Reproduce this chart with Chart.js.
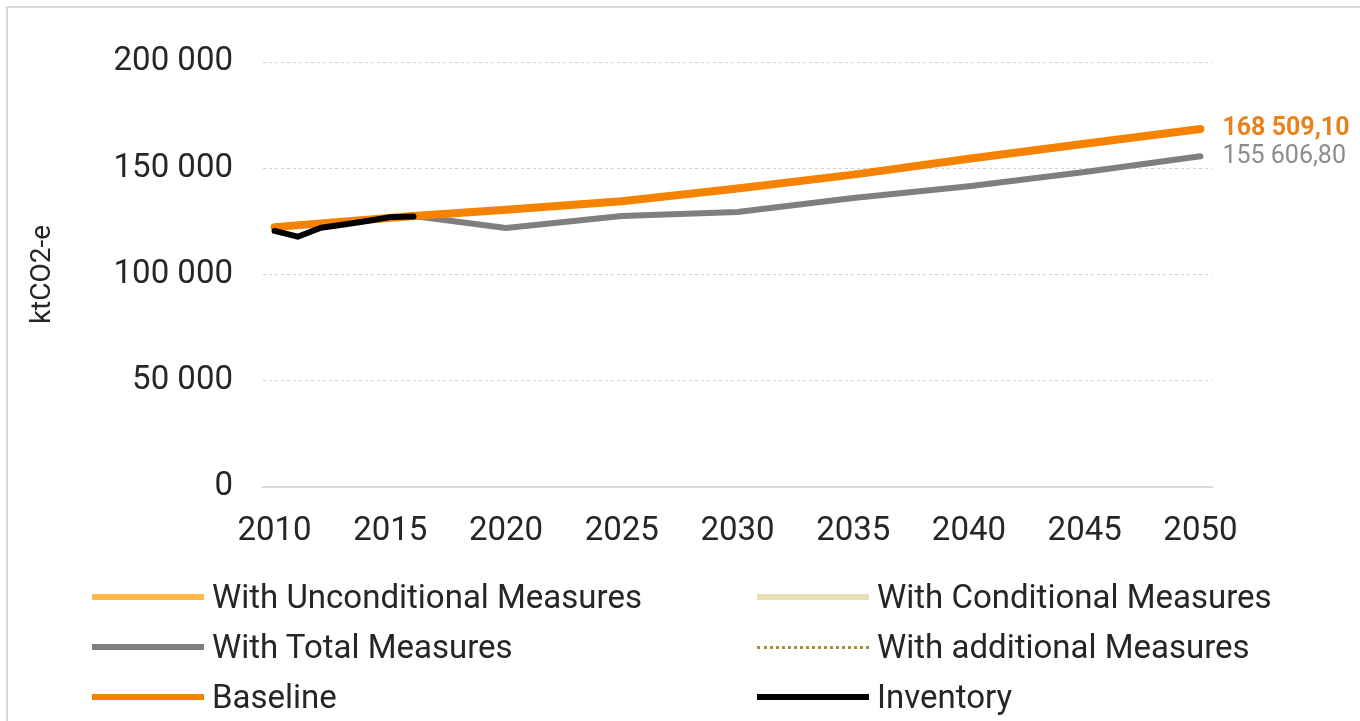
<!DOCTYPE html>
<html lang="en">

<head>
    <meta charset="UTF-8">
    <title>Emissions projections</title>
    <style>
        body {
            margin: 0;
            width: 1360px;
            height: 721px;
            overflow: hidden;
            background: #fff;
            font-family: Roboto, sans-serif;
            position: relative;
        }

        .frame {
            position: absolute;
            left: 6px;
            top: 6px;
            width: 1400px;
            height: 760px;
            border: 2px solid #d9d9d9;
        }

        .chart-container {
            position: absolute;
            left: 0;
            top: 0;
            width: 1360px;
            height: 721px;
        }

        .legend {
            position: absolute;
            left: 0;
            top: 0;
            font-size: 33px;
            color: #262626;
        }

        .legend .item {
            position: absolute;
            height: 40px;
            line-height: 40px;
            white-space: nowrap;
        }

        .legend .swatch {
            position: absolute;
            top: 17px;
            width: 110px;
            height: 0;
        }

        .legend .label {
            position: absolute;
            top: 0;
        }
    </style>
</head>

<body>
    <div class="frame"></div>
    <div class="chart-container">
        <canvas id="myChart"></canvas>
    </div>
    <div class="legend" id="legend"></div>

    <script src="https://cdn.jsdelivr.net/npm/chart.js"></script>
    <script>
        // years on the category axis
        const years = [];
        for (let y = 2010; y <= 2050; y++) years.push(y);

        const yTicks = [0, 50000, 100000, 150000, 200000];

        // values in ktCO2-e (null = no point)
        const baselineYears = [2010, 2016, 2020, 2025, 2030, 2035, 2040, 2045, 2050];
        const baselineVals = [122300, 127500, 130500, 134500, 140500, 147000, 154500, 161500, 168509.10];

        const totalYears = [2016, 2020, 2025, 2030, 2035, 2040, 2045, 2050];
        const totalVals = [127500, 121900, 127500, 129400, 136000, 141500, 148200, 155606.80];

        const inventoryYears = [2010, 2011, 2012, 2013, 2014, 2015, 2016];
        const inventoryVals = [120500, 117800, 122000, 123500, 125200, 127000, 127300];

        // not visible on the picture
        const unconditionalVals = [];
        const conditionalVals = [];
        const additionalVals = [];

        function toSeries(yrs, vals) {
            return years.map(y => {
                const i = yrs.indexOf(y);
                return i < 0 ? null : vals[i];
            });
        }

        function fmt(v, dec) {
            let s = v.toFixed(dec);
            let parts = s.split('.');
            parts[0] = parts[0].replace(/\B(?=(\d{3})+(?!\d))/g, ' ');
            return parts.join(',');
        }

        const datasets = [
            { label: 'With Unconditional Measures', data: unconditionalVals, borderColor: '#ffb845', borderWidth: 6, order: 6 },
            { label: 'With Conditional Measures', data: conditionalVals, borderColor: '#e8dfb5', borderWidth: 6, order: 5 },
            { label: 'With Total Measures', data: toSeries(totalYears, totalVals), borderColor: '#7f7f7f', borderWidth: 6, order: 3, endLabel: { color: '#8c8c8c', bold: false } },
            { label: 'With additional Measures', data: additionalVals, borderColor: '#a39232', borderWidth: 3, borderDash: [3, 4], order: 4 },
            { label: 'Baseline', data: toSeries(baselineYears, baselineVals), borderColor: '#f58200', borderWidth: 8, order: 2, endLabel: { color: '#e9821c', bold: true } },
            { label: 'Inventory', data: toSeries(inventoryYears, inventoryVals), borderColor: '#000000', borderWidth: 6, order: 1 }
        ];
        datasets.forEach(d => {
            d.spanGaps = true;
            d.pointRadius = 0;
            d.fill = false;
            d.tension = 0;
            d.borderCapStyle = 'round';
            d.borderJoinStyle = 'round';
        });

        // value labels at the end of the lines
        const endLabels = {
            id: 'endLabels',
            afterDatasetsDraw(chart) {
                const c = chart.ctx;
                chart.data.datasets.forEach((ds, i) => {
                    if (!ds.endLabel) return;
                    const meta = chart.getDatasetMeta(i);
                    const idx = ds.data.length - 1;
                    const pt = meta.data[idx];
                    if (!pt || ds.data[idx] == null) return;
                    c.save();
                    c.font = (ds.endLabel.bold ? 'bold ' : '') + '25px Roboto';
                    c.fillStyle = ds.endLabel.color;
                    c.textAlign = 'left';
                    c.textBaseline = 'middle';
                    c.fillText(fmt(ds.data[idx], 2), pt.x + 22, pt.y);
                    c.restore();
                });
            }
        };

        const ctx = document.getElementById('myChart').getContext('2d');
        const myChart = new Chart(ctx, {
            type: 'line',
            data: {
                labels: years,
                datasets: datasets
            },
            options: {
                responsive: true,
                maintainAspectRatio: false,
                animation: false,
                layout: {
                    padding: { left: 22, right: 148, top: 62, bottom: 174 }
                },
                plugins: {
                    legend: { display: false },
                    tooltip: { enabled: false }
                },
                scales: {
                    x: {
                        offset: true,
                        grid: { display: false, drawTicks: false },
                        border: { display: true, color: '#d9d9d9', width: 2 },
                        ticks: {
                            autoSkip: false,
                            maxRotation: 0,
                            padding: 25,
                            color: '#262626',
                            font: { family: 'Roboto', size: 33 },
                            callback: function (val, i) {
                                const y = years[i];
                                return y % 5 === 0 ? String(y) : '';
                            }
                        },
                        afterFit: s => { s.height = 60; }
                    },
                    y: {
                        min: 0,
                        max: 200000,
                        afterBuildTicks: s => { s.ticks = yTicks.map(v => ({ value: v })); },
                        grid: {
                            drawTicks: false,
                            lineWidth: 1,
                            color: c => c.tick && c.tick.value === 0 ? 'rgba(0,0,0,0)' : '#d0d0d0'
                        },
                        border: { display: false, dash: [3, 3] },
                        ticks: {
                            padding: 30,
                            color: '#262626',
                            font: { family: 'Roboto', size: 33 },
                            callback: v => fmt(v, 0)
                        },
                        title: {
                            display: true,
                            text: 'ktCO2-e',
                            color: '#262626',
                            font: { family: 'Roboto', size: 28 },
                            padding: { top: 4, bottom: 4 }
                        },
                        afterFit: s => { s.width = 241; }
                    }
                }
            },
            plugins: [endLabels]
        });

        // two-column legend built from the datasets
        const legendPos = [
            [92, 212, 577], [757, 877, 577],
            [92, 212, 627], [757, 877, 627],
            [92, 212, 677], [757, 877, 677]
        ];
        const legendEl = document.getElementById('legend');
        datasets.forEach((ds, i) => {
            const p = legendPos[i];
            const item = document.createElement('div');
            item.className = 'item';
            item.style.top = p[2] + 'px';
            const sw = document.createElement('div');
            sw.className = 'swatch';
            sw.style.left = p[0] + 'px';
            sw.style.width = (p[1] - p[0] - 8) + 'px';
            const w = ds.borderDash ? 3 : 6;
            sw.style.borderTop = w + 'px ' + (ds.borderDash ? 'dotted ' : 'solid ') + ds.borderColor;
            if (ds.borderDash) sw.style.top = '19px';
            const lb = document.createElement('div');
            lb.className = 'label';
            lb.style.left = p[1] + 'px';
            lb.textContent = ds.label;
            item.appendChild(sw);
            item.appendChild(lb);
            legendEl.appendChild(item);
        });
    </script>
</body>

</html>
